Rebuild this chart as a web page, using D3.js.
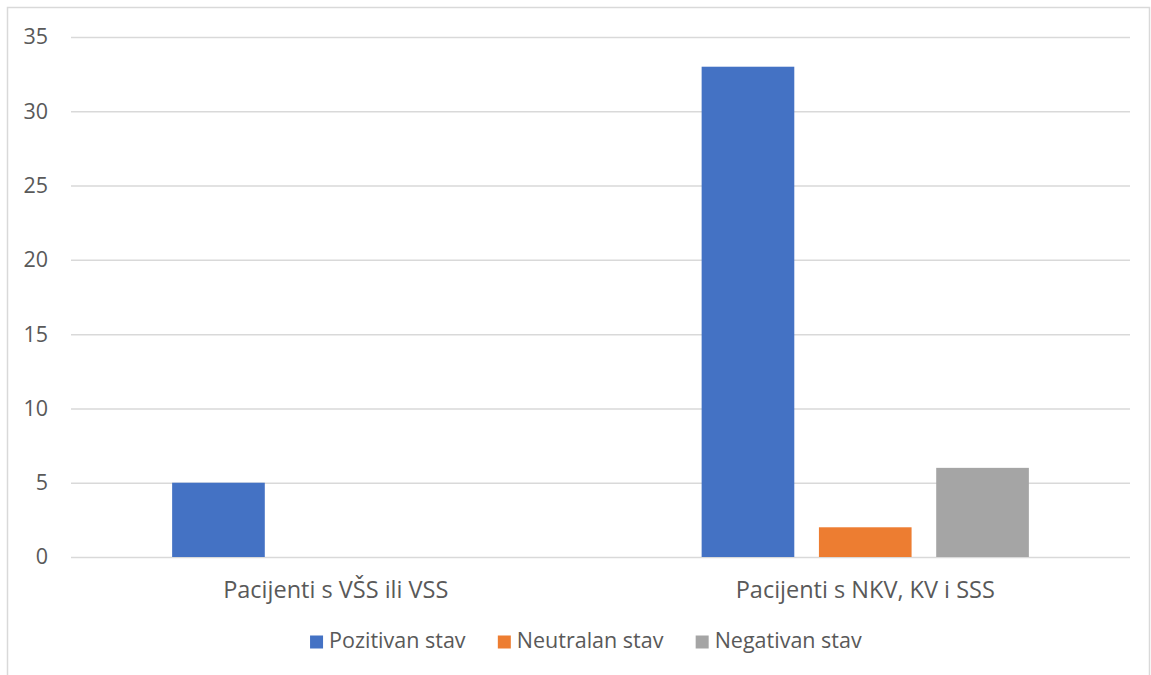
<!DOCTYPE html>
<html><head><meta charset="utf-8">
<script src="https://cdn.jsdelivr.net/npm/d3@7"></script>
<style>body{margin:0;background:#fff;} svg{display:block;}</style>
</head><body>
<svg id="chart" width="1151" height="675"></svg>
<script>
const categories = ["Pacijenti s VŠS ili VSS", "Pacijenti s NKV, KV i SSS"];
const seriesNames = ["Pozitivan stav", "Neutralan stav", "Negativan stav"];
const seriesColors = ["#4472C4", "#ED7D31", "#A5A5A5"];
const pozitivan = [5, 33];
const neutralan = [0, 2];
const negativan = [0, 6];
const yTicks = [0, 5, 10, 15, 20, 25, 30, 35];

const seriesValues = [pozitivan, neutralan, negativan];
const svg = d3.select("#chart");
const font = "'Open Sans', sans-serif";
const textColor = "#595959";
const fsCat = "23.5px";
const fsTick = "21.5px";
const fsLegend = "21.5px";

// chart border
svg.append("rect").attr("x", 7.5).attr("y", 7.5).attr("width", 1142).attr("height", 700)
  .attr("fill", "none").attr("stroke", "#d9d9d9").attr("stroke-width", 1.5);

const plot = {left: 71, right: 1130, top: 37, bottom: 557};
const y = d3.scaleLinear().domain([0, 35]).range([plot.bottom, plot.top]);
const x0 = d3.scaleBand().domain(categories).range([plot.left, plot.right]).padding(0);
const groupW = x0.bandwidth() * 0.618;
const x1 = d3.scaleBand().domain(seriesNames).range([0, groupW]).paddingInner(0.21).paddingOuter(0);

// gridlines + y tick labels
const yAxis = d3.axisLeft(y).tickValues(yTicks).tickSize(-(plot.right - plot.left)).tickPadding(23);
const gy = svg.append("g").attr("transform", `translate(${plot.left},0)`).call(yAxis);
gy.select(".domain").remove();
gy.selectAll(".tick line").attr("stroke", "#d9d9d9").attr("stroke-width", 1.5);
gy.selectAll(".tick text").attr("fill", textColor).style("font-family", font).style("font-size", fsTick);

// bars
const groups = svg.append("g").selectAll("g").data(categories).join("g")
  .attr("transform", d => `translate(${x0(d) + (x0.bandwidth() - groupW) / 2},0)`);
groups.selectAll("rect").data((c, ci) => seriesNames.map((s, si) => ({s, si, v: seriesValues[si][ci]})))
  .join("rect")
  .attr("x", d => x1(d.s)).attr("width", x1.bandwidth())
  .attr("y", d => y(d.v)).attr("height", d => y(0) - y(d.v))
  .attr("fill", d => seriesColors[d.si]);

// category labels
const xAxis = d3.axisBottom(x0).tickSize(0).tickPadding(0);
const gx = svg.append("g").attr("transform", `translate(0,${plot.bottom})`).call(xAxis);
gx.select(".domain").remove();
gx.selectAll(".tick text").attr("y", 41).attr("dy", null)
  .attr("fill", textColor).style("font-family", font).style("font-size", fsCat);

// legend
const legend = svg.append("g");
const items = legend.selectAll("g").data(seriesNames).join("g");
items.append("rect").attr("width", 13).attr("height", 13).attr("y", -12.5).attr("fill", (d, i) => seriesColors[i]);
items.append("text").attr("x", 19).attr("y", 0).text(d => d)
  .attr("fill", textColor).style("font-family", font).style("font-size", fsLegend);
const widths = [];
items.each(function () { widths.push(this.getBBox().width); });
const gap = 32;
const total = d3.sum(widths) + gap * (widths.length - 1);
let cx = 586 - total / 2;
items.attr("transform", (d, i) => { const t = `translate(${cx},648)`; cx += widths[i] + gap; return t; });
</script>
</body></html>
